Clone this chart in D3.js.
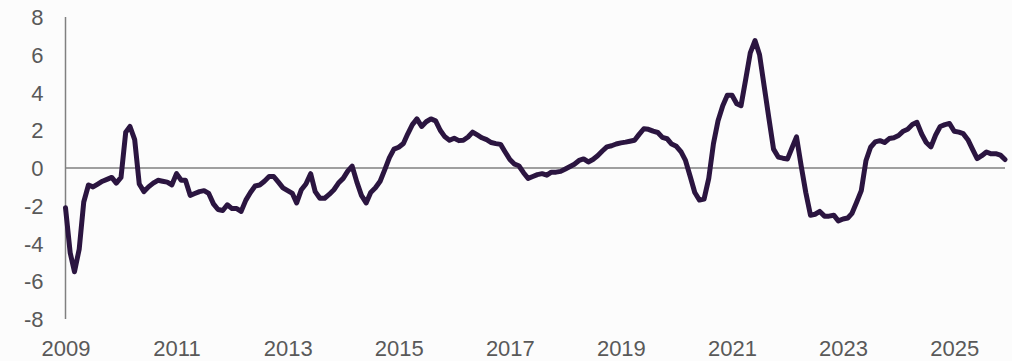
<!DOCTYPE html>
<html>
<head>
<meta charset="utf-8">
<script src="https://cdn.jsdelivr.net/npm/d3@7"></script>
<style>
  html, body { margin: 0; padding: 0; background: #fcfcfc; }
  svg { display: block; }
  .tick text { font-family: "Liberation Sans", Arial, sans-serif; font-size: 22px; fill: #595959; }
</style>
</head>
<body>
<svg id="chart" width="1012" height="361"></svg>
<script>
// Monthly series, Jan 2009 – Dec 2025
const startYear = 2009;
const startMonth = 0;
const values = [
  -2.1, -4.5, -5.5, -4.3, -1.8, -0.9, -1.0, -0.85, -0.7, -0.6, -0.5, -0.8,
  -0.5, 1.9, 2.2, 1.5, -0.85, -1.25, -1.0, -0.8, -0.65, -0.7, -0.75, -0.9,
  -0.3, -0.65, -0.65, -1.45, -1.35, -1.25, -1.2, -1.35, -1.9, -2.2, -2.25, -1.95,
  -2.15, -2.15, -2.3, -1.7, -1.3, -0.95, -0.9, -0.7, -0.45, -0.45, -0.75, -1.05,
  -1.2, -1.35, -1.85, -1.15, -0.85, -0.3, -1.25, -1.6, -1.6, -1.4, -1.15, -0.8,
  -0.55, -0.15, 0.1, -0.75, -1.45, -1.85, -1.3, -1.05, -0.7, -0.1, 0.55, 1.0,
  1.1, 1.3, 1.8, 2.3, 2.6, 2.2, 2.45, 2.6, 2.5, 2.0, 1.65, 1.47,
  1.58, 1.45, 1.47, 1.64, 1.9, 1.75, 1.6, 1.5, 1.35, 1.29, 1.25, 0.85,
  0.45, 0.2, 0.12, -0.25, -0.55, -0.45, -0.35, -0.3, -0.38, -0.22, -0.22, -0.18,
  -0.05, 0.08, 0.2, 0.4, 0.48, 0.32, 0.45, 0.65, 0.9, 1.12, 1.18, 1.27,
  1.33, 1.37, 1.42, 1.47, 1.78, 2.08, 2.05, 1.95, 1.88, 1.62, 1.55, 1.27,
  1.15, 0.85, 0.4, -0.45, -1.3, -1.7, -1.65, -0.55, 1.3, 2.5, 3.3, 3.85,
  3.85, 3.4, 3.3, 4.7, 6.1, 6.75, 6.0, 4.3, 2.6, 1.0, 0.58, 0.52,
  0.48, 1.1, 1.65, 0.1, -1.3, -2.5, -2.45, -2.3, -2.55, -2.55, -2.5, -2.8,
  -2.7, -2.65, -2.4, -1.8, -1.2, 0.4, 1.1, 1.38, 1.45, 1.35, 1.56, 1.6,
  1.72, 1.95, 2.05, 2.3, 2.42, 1.8, 1.35, 1.12, 1.75, 2.2, 2.3, 2.36,
  1.95, 1.9, 1.82, 1.5, 1.0, 0.5, 0.65, 0.85, 0.75, 0.76, 0.68, 0.45
];
const yTicks = [-8, -6, -4, -2, 0, 2, 4, 6, 8];
const xTickYears = [2009, 2011, 2013, 2015, 2017, 2019, 2021, 2023, 2025];

const data = values.map((v, i) => ({ date: new Date(Date.UTC(startYear, startMonth + i, 1)), value: v }));

const svg = d3.select("#chart");
const plotLeft = 65.5, plotRight = 1005, plotTop = 17, plotBottom = 319;

const x = d3.scaleUtc()
  .domain([data[0].date, data[data.length - 1].date])
  .range([plotLeft, plotRight]);
const y = d3.scaleLinear().domain([-8, 8]).range([plotBottom, plotTop]);

// Y axis labels (plain hyphen for negatives)
const yAxis = svg.append("g")
  .attr("transform", `translate(${plotLeft},0)`)
  .call(d3.axisLeft(y).tickValues(yTicks).tickSize(0).tickPadding(22).tickFormat(d => String(d)));
yAxis.select(".domain").remove();
yAxis.selectAll(".tick text").attr("dy", "0.35em");

// X axis labels
const xAxis = svg.append("g")
  .attr("transform", `translate(0,${plotBottom})`)
  .call(d3.axisBottom(x)
    .tickValues(xTickYears.map(yr => new Date(Date.UTC(yr, 0, 1))))
    .tickSize(0).tickPadding(21).tickFormat(d3.utcFormat("%Y")));
xAxis.select(".domain").remove();

// Vertical axis line
svg.append("line")
  .attr("x1", plotLeft).attr("x2", plotLeft)
  .attr("y1", y(8)).attr("y2", y(-8))
  .attr("stroke", "#808080").attr("stroke-width", 1.5);

// Zero baseline
svg.append("line")
  .attr("x1", plotLeft).attr("x2", plotRight)
  .attr("y1", y(0)).attr("y2", y(0))
  .attr("stroke", "#808080").attr("stroke-width", 1.5);

// Series line
const line = d3.line().x(d => x(d.date)).y(d => y(d.value));
svg.append("path")
  .datum(data)
  .attr("d", line)
  .attr("fill", "none")
  .attr("stroke", "#2b1540")
  .attr("stroke-width", 5)
  .attr("stroke-linejoin", "round")
  .attr("stroke-linecap", "round");
</script>
</body>
</html>
